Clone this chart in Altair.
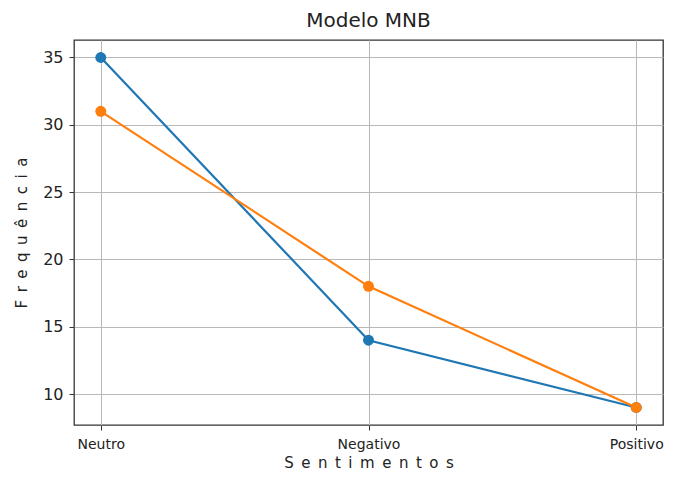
import altair as alt
import pandas as pd

categories = ["Neutro", "Negativo", "Positivo"]
series_a = [35, 14, 9]   # blue
series_b = [31, 18, 9]   # orange
series_names = ["A", "B"]

rows = []
for name, vals in zip(series_names, [series_a, series_b]):
    for c, v in zip(categories, vals):
        rows.append({"cat": c, "val": v, "serie": name})
df = pd.DataFrame(rows)

SP = "\u2002"
x_title = SP.join("Sentimentos")
y_title = SP.join("Frequência")

x_enc = alt.X("cat:N", sort=categories, scale=alt.Scale(type="point", padding=0.1),
              axis=alt.Axis(title=x_title, labelAngle=0, grid=True,
                            gridColor="#b8b8b8", gridWidth=1, tickSize=5, tickColor="#333",
                            domain=False, labelFontSize=14, titleFontSize=15,
                            titleFontWeight="normal", labelColor="#222", titleColor="#222",
                            titlePadding=4, labelPadding=7))
y_enc = alt.Y("val:Q", scale=alt.Scale(domain=[7.7, 36.3], nice=False, zero=False),
              axis=alt.Axis(title=y_title, values=[10, 15, 20, 25, 30, 35],
                            grid=True, gridColor="#b8b8b8", gridWidth=1, tickSize=5,
                            tickColor="#333", domain=False, labelFontSize=16, titleFontSize=15,
                            titleFontWeight="normal", labelColor="#222", titleColor="#222",
                            titlePadding=13, labelPadding=6))
color_enc = alt.Color("serie:N", scale=alt.Scale(domain=series_names, range=["#1f77b4", "#ff7f0e"]), legend=None)

base = alt.Chart(df)
layers = []
for name in series_names:
    sub = base.transform_filter(alt.datum.serie == name)
    layers.append(sub.mark_line(strokeWidth=2.2).encode(x=x_enc, y=y_enc, color=color_enc))
    layers.append(sub.mark_point(filled=True, size=120, opacity=1).encode(x=x_enc, y=y_enc, color=color_enc))

chart = alt.layer(*layers).properties(
    width=589, height=385,
    title=alt.TitleParams("Modelo MNB", fontSize=20, fontWeight="normal", color="#222", offset=9),
    autosize=alt.AutoSizeParams(type="none"),
    padding={"left": 66, "top": 32, "right": 1, "bottom": 48},
).configure(font="DejaVu Sans").configure_view(stroke="#333", strokeWidth=1.3).configure_title(font="DejaVu Sans")

chart.save("out.html", embed_options={"renderer": "svg", "actions": False})
